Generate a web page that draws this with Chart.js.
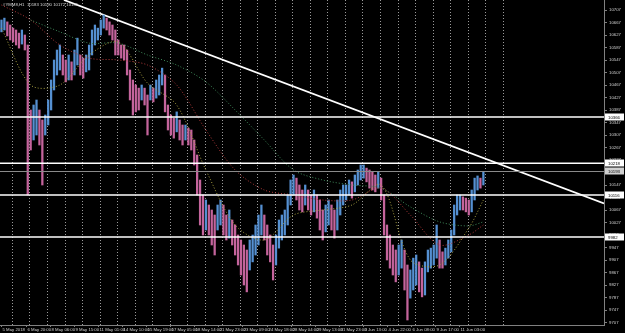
<!DOCTYPE html>
<html>
<head>
<meta charset="utf-8">
<script src="https://cdn.jsdelivr.net/npm/chart.js@4.4.1/dist/chart.umd.min.js"></script>
<style>
  html, body { margin: 0; padding: 0; background: #000; }
  canvas { display: block; }
</style>
</head>
<body>
<canvas id="chart" width="625" height="333"></canvas>
<script>
// header text, top-left
const title = "#YMM8,H1  10183 10190 10172 10181";

// 4-hour bars (high / low)
const highs = [
  10676, 10682, 10670, 10660, 10650, 10644, 10634, 10644, 10628, 10596,
  10388, 10404, 10420, 10388, 10356, 10372, 10420, 10484, 10548, 10580,
  10596, 10564, 10548, 10564, 10542, 10580, 10618, 10564, 10554, 10564,
  10596, 10644, 10660, 10650, 10676, 10692, 10682, 10670, 10660, 10644,
  10612, 10596, 10596, 10580, 10516, 10484, 10468, 10458, 10468, 10458,
  10436, 10468, 10458, 10484, 10500, 10522, 10500, 10404, 10372, 10362,
  10382, 10356, 10340, 10340, 10330, 10324, 10292, 10244, 10164, 10116,
  10100, 10084, 10068, 10052, 10084, 10100, 10084, 10052, 10068, 10036,
  10020, 9988, 9972, 9956, 9940, 9972, 9988, 10020, 10052, 10084,
  10052, 10020, 9988, 9956, 9988, 10036, 10052, 10068, 10116, 10164,
  10180, 10170, 10148, 10132, 10148, 10132, 10116, 10132, 10116, 10100,
  10068, 10084, 10100, 10084, 10068, 10100, 10132, 10148, 10148, 10164,
  10158, 10180, 10196, 10212, 10212, 10202, 10196, 10190, 10180, 10190,
  10170, 10116, 10020, 9988, 9956, 9940, 9956, 9972, 9940, 9892,
  9876, 9914, 9924, 9902, 9882, 9902, 9940, 9946, 9956, 10020,
  9972, 9934, 9946, 9972, 10004, 10084, 10116, 10116, 10110, 10106,
  10100, 10132, 10170, 10177, 10170, 10190
];
const lows = [
  10638, 10644, 10625, 10612, 10606, 10596, 10586, 10599, 10580, 10116,
  10260, 10292, 10308, 10276, 10148, 10308, 10340, 10388, 10452, 10500,
  10516, 10500, 10478, 10484, 10484, 10500, 10532, 10500, 10490, 10510,
  10516, 10564, 10596, 10612, 10628, 10650, 10644, 10628, 10612, 10564,
  10564, 10554, 10548, 10500, 10420, 10372, 10382, 10388, 10420, 10404,
  10308, 10420, 10414, 10426, 10436, 10468, 10382, 10324, 10308, 10298,
  10318, 10292, 10276, 10292, 10276, 10260, 10212, 10116, 10020, 9988,
  10004, 9988, 9956, 9924, 10004, 10020, 9988, 9972, 9978, 9956,
  9924, 9892, 9860, 9828, 9806, 9876, 9902, 9924, 9956, 9988,
  9972, 9924, 9902, 9844, 9892, 9946, 9972, 9988, 10020, 10084,
  10116, 10100, 10068, 10062, 10084, 10068, 10052, 10062, 10042, 10004,
  9972, 9998, 10020, 10004, 9978, 10004, 10052, 10084, 10100, 10116,
  10106, 10126, 10148, 10164, 10170, 10158, 10138, 10132, 10126, 10138,
  10100, 9988, 9908, 9882, 9860, 9838, 9860, 9882, 9812, 9716,
  9786, 9812, 9828, 9806, 9790, 9796, 9870, 9882, 9892, 9914,
  9882, 9882, 9892, 9914, 9934, 9988, 10052, 10068, 10068, 10062,
  10052, 10062, 10100, 10132, 10138, 10148
];

// moving averages, read every 10 bars
const maBars = [0, 10, 20, 30, 40, 50, 60, 70, 80, 90, 100, 110, 120, 130, 140, 150, 160, 165];
const maFast = [10650, 10468, 10468, 10564, 10606, 10474, 10404, 10196, 10020, 9972, 10052, 10068, 10084, 10148, 9908, 9892, 10010, 10100];
const maMid  = [10724, 10676, 10596, 10554, 10548, 10532, 10468, 10324, 10196, 10132, 10116, 10100, 10100, 10138, 10052, 9956, 9988, 10020];
const maSlow = [null, 10676, 10638, 10602, 10602, 10564, 10532, 10478, 10388, 10292, 10196, 10164, 10148, 10138, 10078, 10030, 10017, 10030];

// time axis
const dateLabels = [
  "5 May 2018", "6 May 20:00", "8 May 06:00", "9 May 15:00", "11 May 01:00",
  "14 May 10:00", "15 May 19:00", "17 May 05:00", "18 May 14:00", "21 May 23:00",
  "23 May 09:00", "24 May 18:00", "28 May 04:00", "29 May 13:00", "31 May 23:00",
  "3 Jun 13:00", "4 Jun 22:00", "6 Jun 08:00", "9 Jun 17:00", "11 Jun 03:00"
];
const hoursPerBar = 4;
const hoursPerLabel = 33;

// price axis
const priceTicks = [
  9707, 9747, 9787, 9827, 9867, 9907, 9947, 9987, 10027, 10067, 10107, 10147, 10187,
  10227, 10267, 10307, 10347, 10387, 10427, 10467, 10507, 10547, 10587, 10627, 10667, 10707
];

// drawn objects
const levels = [10366, 10218, 10116, 9982];
const bidPrice = 10193;
const trendBars = [21.4, 206.3];
const trendPrices = [10740, 10089];

const BLUE = "#5590d2";
const PINK = "#c4649c";
const SMALL = "4.3px 'Liberation Sans'";

const X_MIN = -0.5, X_MAX = 206.3;

const mids = highs.map((h, i) => (h + lows[i]) / 2);
const barColors = mids.map((m, i) => (i > 0 && m < mids[i - 1]) ? PINK : BLUE);

const maPoints = vals => maBars.map((b, i) => ({ x: b, y: vals[i] }));

// terminal extras: day separators, date labels, levels, price boxes, header
const terminal = {
  id: "terminal",
  beforeDatasetsDraw(chart) {
    const { ctx, chartArea: a, scales: { x } } = chart;
    ctx.save();
    ctx.strokeStyle = "#9a9a9a";
    ctx.lineWidth = 1;
    ctx.setLineDash([1, 2]);
    for (let k = 0; k < 29; k++) {
      const px = Math.round(x.getPixelForValue(3.6 + 6 * k)) + 0.5;
      ctx.beginPath();
      ctx.moveTo(px, a.top);
      ctx.lineTo(px, a.bottom);
      ctx.stroke();
    }
    ctx.restore();
  },
  afterDatasetsDraw(chart) {
    const { ctx, chartArea: a, scales: { y } } = chart;
    ctx.save();
    ctx.setLineDash([]);
    const py = Math.round(y.getPixelForValue(bidPrice)) + 0.5;
    ctx.strokeStyle = "#8a8a8a";
    ctx.lineWidth = 1;
    ctx.beginPath(); ctx.moveTo(a.left, py); ctx.lineTo(a.right, py); ctx.stroke();
    ctx.strokeStyle = "#ffffff";
    ctx.lineWidth = 1.5;
    levels.forEach(v => {
      const p = y.getPixelForValue(v);
      ctx.beginPath(); ctx.moveTo(a.left, p); ctx.lineTo(a.right, p); ctx.stroke();
    });
    ctx.fillStyle = "#d8d8d8";
    ctx.font = SMALL;
    ctx.textBaseline = "middle";
    ctx.textAlign = "left";
    ctx.fillText(title, 3, 5);
    ctx.restore();
  },
  afterDraw(chart) {
    const { ctx, chartArea: a, scales: { x, y } } = chart;
    ctx.save();
    ctx.font = SMALL;
    ctx.textBaseline = "middle";
    ctx.textAlign = "left";
    // date labels, left-aligned on their tick like the terminal does
    ctx.fillStyle = "#d0d0d0";
    ctx.strokeStyle = "#808080";
    ctx.lineWidth = 1;
    dateLabels.forEach((t, j) => {
      const px = Math.round(x.getPixelForValue(j * hoursPerLabel / hoursPerBar)) + 0.5;
      ctx.beginPath(); ctx.moveTo(px, a.bottom); ctx.lineTo(px, a.bottom + 2); ctx.stroke();
      ctx.fillText(t, px + 1, a.bottom + 4.5);
    });
    const box = (v, bg) => {
      const p = Math.round(y.getPixelForValue(v));
      ctx.fillStyle = bg;
      ctx.fillRect(a.right + 1, p - 3.5, 19, 7);
      ctx.fillStyle = "#000";
      ctx.fillText(String(v), a.right + 4, p + 0.5);
    };
    levels.forEach(v => box(v, "#ffffff"));
    box(bidPrice, "#d0d0d0");
    ctx.restore();
  }
};

new Chart(document.getElementById("chart"), {
  type: "bar",
  data: {
    datasets: [
      {
        type: "line",
        data: maPoints(maSlow),
        borderColor: "#3f8a5a",
        borderWidth: 1,
        borderDash: [1, 2],
        pointRadius: 0,
        tension: 0.3
      },
      {
        type: "line",
        data: maPoints(maMid),
        borderColor: "#b03a3a",
        borderWidth: 1,
        borderDash: [1, 2],
        pointRadius: 0,
        tension: 0.3
      },
      {
        type: "line",
        data: maPoints(maFast),
        borderColor: "#a8a040",
        borderWidth: 1,
        borderDash: [1, 2],
        pointRadius: 0,
        tension: 0.3
      },
      {
        data: highs.map((h, i) => ({ x: i, y: [lows[i], h] })),
        backgroundColor: barColors,
        barThickness: 1.6,
        borderWidth: 0
      },
      {
        type: "line",
        data: trendBars.map((b, i) => ({ x: b, y: trendPrices[i] })),
        borderColor: "#ffffff",
        borderWidth: 1.8,
        pointRadius: 0
      }
    ]
  },
  options: {
    responsive: false,
    animation: false,
    layout: { padding: 0 },
    plugins: {
      legend: { display: false },
      tooltip: { enabled: false }
    },
    scales: {
      x: {
        type: "linear",
        offset: false,
        min: X_MIN,
        max: X_MAX,
        grid: { display: false },
        border: { color: "#808080" },
        ticks: { display: false },
        afterFit: s => {
          s.height = 8;
          s.paddingLeft = 0;
          s.paddingRight = 0;
        }
      },
      y: {
        position: "right",
        min: 9700,
        max: 10740,
        grid: { drawOnChartArea: false, color: "#808080", tickLength: 3 },
        border: { color: "#808080" },
        afterBuildTicks: s => {
          s.ticks = priceTicks.map(v => ({ value: v }));
        },
        afterFit: s => {
          s.width = 21;
          s.paddingTop = 0;
          s.paddingBottom = 0;
        },
        ticks: {
          padding: 2,
          color: "#d0d0d0",
          font: { family: "Liberation Sans", size: 4.3 },
          callback: v => String(v)
        }
      }
    }
  },
  plugins: [terminal]
});
</script>
</body>
</html>
